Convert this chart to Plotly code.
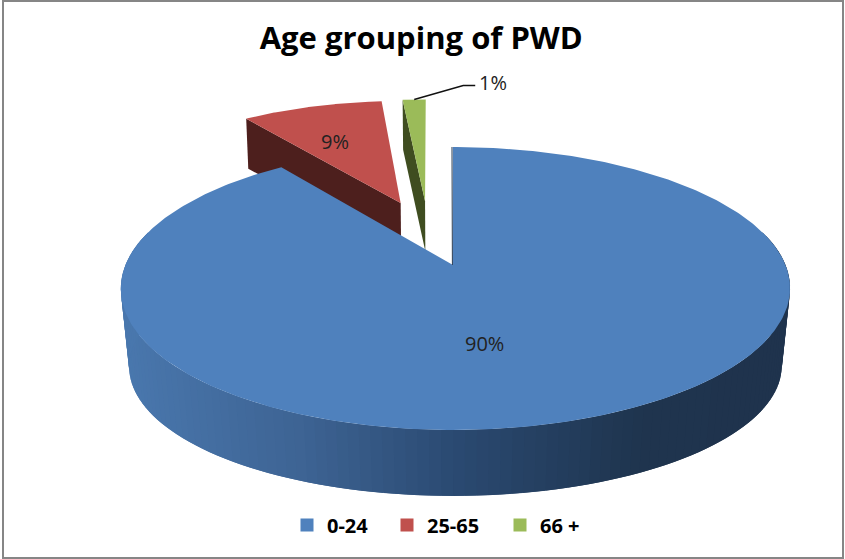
import numpy as np
import plotly.graph_objects as go

TITLE = "Age grouping of PWD"
categories = ["0-24", "25-65", "66 +"]
values = [89.9, 8.7, 1.4]
top_colors = ["#4f81bd", "#c0504d", "#9bbb59"]
wall_colors = [None, "#4d1f1d", "#3f4d20"]
wall_stops_x = [120, 300, 455, 640, 790]
wall_stops_rgb = [(74, 120, 174), (62, 100, 148), (43, 74, 114), (31, 53, 79), (31, 51, 77)]

W, H = 845, 559
CX, CY = 453, 265       # hub of the blue slice on screen
A, HH, K = 330, 137.6, 0.166  # perspective projection of the pie plane
EXPLODE = 0.258
LEGEND_X = [287, 387, 500]  # left edge of each legend block, px


def project(X, Y):
    d = 1 + K * Y
    skew = 2.5 * X ** 2 - 12 * np.maximum(Y - 1.25, 0)
    return CX + A * X / d + skew, CY - HH * Y / d


fractions = np.array(values) / sum(values)
edges = np.concatenate([[0], np.cumsum(fractions)]) * 2 * np.pi


def direction(i):
    m = (edges[i] + edges[i + 1]) / 2
    return np.array([np.sin(m), np.cos(m)])


def slice_arc(i, n=160):
    off = EXPLODE * (direction(i) - direction(0))
    t = np.linspace(edges[i], edges[i + 1], n)
    x, y = project(np.sin(t) + off[0], np.cos(t) + off[1])
    hx, hy = project(off[0], off[1])
    return x, y, hx, hy


def blue_bottom(x, y):
    return CX + 2 + 0.975 * (x - CX - 2), 366 + 0.915 * (y - 288)


def slice_bottom(x, y):
    return CX + 0.99 * (x - CX), y + 50


def wall_color(x):
    return "rgb(%d,%d,%d)" % tuple(
        np.interp(x, wall_stops_x, [c[j] for c in wall_stops_rgb]) for j in range(3)
    )


def poly(x, y, color):
    return go.Scatter(
        x=list(x), y=list(y), mode="lines", fill="toself", fillcolor=color,
        line=dict(color=color, width=0), hoverinfo="skip", showlegend=False,
    )


fig = go.Figure()

# exploded small slices: inner radial wall, then top face
for i in (1, 2):
    x, y, hx, hy = slice_arc(i)
    bx0, by0 = slice_bottom(x[0], y[0])
    bhx, bhy = slice_bottom(hx, hy)
    fig.add_trace(poly([x[0], hx, bhx, bx0], [y[0], hy, bhy, by0], wall_colors[i]))
    fig.add_trace(poly(np.r_[hx, x], np.r_[hy, y], top_colors[i]))

# blue outer wall: overlapping strips so no seams show
t = np.linspace(np.pi * 0.42, np.pi * 1.58, 121)
wx, wy = project(np.sin(t), np.cos(t))
bx, by = blue_bottom(wx, wy)
for j in range(len(t) - 1):
    k = min(j + 2, len(t) - 1)
    fig.add_trace(poly(
        [wx[j], wx[k], bx[k], bx[j]],
        [wy[j], wy[k], by[k], by[j]],
        wall_color((wx[j] + wx[j + 1]) / 2),
    ))

# blue top face
x, y, hx, hy = slice_arc(0, 400)
fig.add_trace(poly(np.r_[hx, x], np.r_[hy, y], top_colors[0]))
fig.add_trace(go.Scatter(
    x=[hx - 0.6, x[0] - 1], y=[hy, y[0]], mode="lines",
    line=dict(color="#1f334d", width=1), hoverinfo="skip", showlegend=False,
))

# leader line for the smallest slice
gx, gy, _, _ = slice_arc(2)
lx, ly = gx[len(gx) // 2], gy[len(gy) // 2]
fig.add_trace(go.Scatter(
    x=[lx, lx + 49, lx + 61], y=[ly, ly - 14, ly - 14], mode="lines",
    line=dict(color="#111111", width=1.5), hoverinfo="skip", showlegend=False,
))

# legend entries, one legend block each so every entry sits at its own position
legend_names = ["legend", "legend2", "legend3"]
for c, col, ln in zip(categories, top_colors, legend_names):
    fig.add_trace(go.Scatter(
        x=[None], y=[None], mode="markers", name=c, legend=ln, showlegend=True,
        marker=dict(symbol="square", size=13, color=col, line=dict(width=0)),
    ))

labels = [f"{round(v)}%" for v in values]
label_pos = [(484, 343), (335, 141), (493, 82)]
annotations = [
    dict(x=p[0], y=p[1], text=s, showarrow=False, xref="x", yref="y",
         font=dict(family="Open Sans, sans-serif", size=20, color="#222222"))
    for s, p in zip(labels, label_pos)
]

legend_layout = {
    ln: dict(
        orientation="h", x=lxp / W, xanchor="left", y=0.061, yanchor="middle",
        font=dict(family="Open Sans, sans-serif", size=20, color="black", weight="bold"),
        bgcolor="rgba(0,0,0,0)",
    )
    for ln, lxp in zip(legend_names, LEGEND_X)
}

fig.update_layout(
    width=W, height=H, margin=dict(l=0, r=0, t=0, b=0),
    paper_bgcolor="white", plot_bgcolor="white",
    title=dict(
        text=f"<b>{TITLE}</b>", x=0.4985, xanchor="center", y=0.932, yanchor="middle",
        font=dict(family="Open Sans, sans-serif", size=31, color="black"),
    ),
    xaxis=dict(range=[0, W], visible=False, fixedrange=True),
    yaxis=dict(range=[H, 0], visible=False, fixedrange=True),
    annotations=annotations,
    shapes=[dict(type="rect", xref="x", yref="y", x0=3, x1=843, y0=1, y1=558,
                 line=dict(color="#868686", width=2))],
    **legend_layout,
)

fig.write_html(
    "out.html",
    config={"displayModeBar": False},
    post_script="document.body.style.margin='0';document.documentElement.style.overflow='hidden';",
)
